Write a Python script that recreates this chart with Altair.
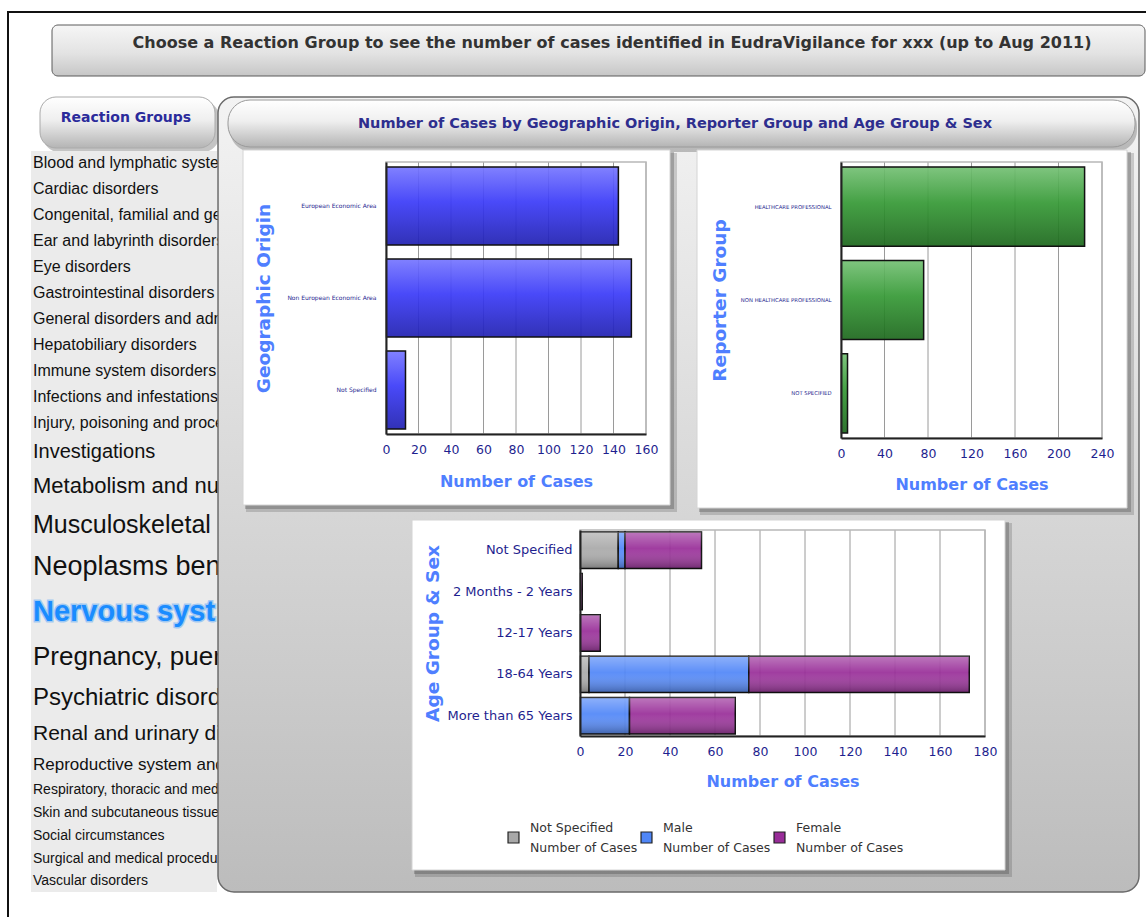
import altair as alt
import pandas as pd

# ---------------- data ----------------
geo_categories = ["European Economic Area", "Non European Economic Area", "Not Specified"]
geo_cases = [143, 151, 12]

reporter_categories = ["HEALTHCARE PROFESSIONAL", "NON HEALTHCARE PROFESSIONAL", "NOT SPECIFIED"]
reporter_cases = [224, 76, 6]

age_groups = ["Not Specified", "2 Months - 2 Years", "12-17 Years", "18-64 Years", "More than 65 Years"]
sex_groups = ["Not Specified", "Male", "Female"]
age_cases_not_specified = [17, 0, 0, 4, 0]
age_cases_male = [3, 0, 0, 71, 22]
age_cases_female = [34, 1, 9, 98, 47]

geo_ticks = [0, 20, 40, 60, 80, 100, 120, 140, 160]
reporter_ticks = [0, 40, 80, 120, 160, 200, 240]
age_ticks = [0, 20, 40, 60, 80, 100, 120, 140, 160, 180]

reaction_groups = [
    "Blood and lymphatic system disorders",
    "Cardiac disorders",
    "Congenital, familial and genetic disorders",
    "Ear and labyrinth disorders",
    "Eye disorders",
    "Gastrointestinal disorders",
    "General disorders and administration site conditions",
    "Hepatobiliary disorders",
    "Immune system disorders",
    "Infections and infestations",
    "Injury, poisoning and procedural complications",
    "Investigations",
    "Metabolism and nutrition disorders",
    "Musculoskeletal and connective tissue disorders",
    "Neoplasms benign, malignant and unspecified (incl cysts and polyps)",
    "Nervous system disorders",
    "Pregnancy, puerperium and perinatal conditions",
    "Psychiatric disorders",
    "Renal and urinary disorders",
    "Reproductive system and breast disorders",
    "Respiratory, thoracic and mediastinal disorders",
    "Skin and subcutaneous tissue disorders",
    "Social circumstances",
    "Surgical and medical procedures",
    "Vascular disorders",
]
selected_group = "Nervous system disorders"

header_text = "Choose a Reaction Group to see the number of cases identified in EudraVigilance for xxx (up to Aug 2011)"
panel_text = "Number of Cases by Geographic Origin, Reporter Group and Age Group & Sex"
list_title = "Reaction Groups"
x_title = "Number of Cases"

# ---------------- layout / style ----------------
list_font_sizes = [16] * 11 + [20, 22, 25, 27, 29, 26, 24, 21, 17, 14, 14, 14, 14, 14]

FONT = "DejaVu Sans"
NAVY = "#1f1f8f"
TBLUE = "#4f7fff"
CW, CH = 1146, 917

# plot areas (left, top, right, bottom) in page pixels
P1 = (386, 162, 646, 434)
P2 = (841, 162, 1102, 438)
P3 = (580, 530, 985, 736)

one = pd.DataFrame({"k": [0]})


def vgrad(stops):
    return alt.Gradient(
        gradient="linear", x1=0, x2=0, y1=0, y2=1,
        stops=[alt.GradientStop(offset=o, color=c) for o, c in stops],
    )


def rect(x1, y1, x2, y2, **kw):
    return alt.Chart(one).mark_rect(clip=False, **kw).encode(
        x=alt.value(x1), x2=alt.value(x2), y=alt.value(y1), y2=alt.value(y2))


def label(x, y, text, **kw):
    return alt.Chart(one).mark_text(clip=False, **kw).encode(
        x=alt.value(x), y=alt.value(y), text=alt.value(text))


def card(x1, y1, x2, y2):
    return [
        rect(x1 + 3, y1 + 3, x2 + 7, y2 + 7, fill="#404040", opacity=0.22),
        rect(x1 + 2, y1 + 2, x2 + 4, y2 + 4, fill="#404040", opacity=0.3),
        rect(x1, y1, x2, y2, fill="white", stroke="#d4d4d4", strokeWidth=1),
    ]


def frame(p):
    return rect(p[0], p[1], p[2], p[3], fillOpacity=0, stroke="#b8b8b8", strokeWidth=1.5)


def xaxis(ticks, p, ty):
    return alt.Axis(
        orient="bottom", offset=p[3] - CH,
        values=ticks, grid=False, ticks=False, labelFlush=False, labelPadding=9,
        labelFontSize=12.5, labelColor=NAVY, labelFont=FONT,
        domainColor="#222", domainWidth=2,
        title=x_title, titleColor=TBLUE, titleFont=FONT, titleFontSize=16,
        titleFontWeight="bold", titleY=ty, titleBaseline="middle", zindex=1,
    )


def yaxis(title, p, tx, fs, pad):
    return alt.Axis(
        orient="left", offset=-p[0],
        title=title, grid=False, ticks=False, labelFontSize=fs, labelColor=NAVY,
        labelFont=FONT, labelPadding=pad, labelLimit=400,
        domainColor="#222", domainWidth=2,
        titleColor=TBLUE, titleFont=FONT, titleFontSize=18.5, titleFontWeight="bold",
        titleX=tx, titleY=(p[1] + p[3]) / 2, titleAngle=270, titleAlign="center",
        titleBaseline="middle", zindex=1,
    )


def grid(ticks, sc, ax, p):
    return alt.Chart(pd.DataFrame({"t": ticks})).mark_rule(color="#9a9a9a", strokeWidth=1).encode(
        x=alt.X("t:Q", scale=sc, axis=ax), y=alt.value(p[1]), y2=alt.value(p[3]))


pill_grad = vgrad([(0, "#ffffff"), (0.45, "#efefef"), (1, "#b4b4b4")])

# ---------------- page decorations ----------------
deco = [
    rect(0, 0, CW, CH, fill="white"),
    rect(7, 11, CW, 13, fill="#111"),
    rect(7, 11, 9, CH, fill="#111"),
    rect(52, 25, 1145, 76, cornerRadius=6, stroke="#5a5a5a", strokeWidth=1,
         fill=vgrad([(0, "#f6f6f6"), (0.55, "#e3e3e3"), (1, "#c6c6c6")])),
    label(612, 43, header_text, font=FONT, fontSize=16, fontWeight="bold", color="#333"),
    rect(43, 101, 219, 152, cornerRadius=16, fill="#555", opacity=0.35),
    rect(40, 97, 215, 148, cornerRadius=16, fill=pill_grad, stroke="#aaa", strokeWidth=1),
    label(126, 118, list_title, font=FONT, fontSize=14, fontWeight="bold", color="#2b2b9b"),
    rect(31, 151, 217, 892, fill="#ebebeb"),
]

LIST_LIMIT = 194
NO_ELLIPSIS = "\u200b"
yy = 163.0
for i, (name, fs) in enumerate(zip(reaction_groups, list_font_sizes)):
    if i > 0:
        yy += (list_font_sizes[i - 1] + fs) / 2 * 1.625
    sel = name == selected_group
    if sel:
        deco.append(label(33, yy, name, align="left", baseline="middle",
                          font="Liberation Sans", fontSize=fs, fontWeight="bold",
                          color="#1a8cff", stroke="#1a8cff", strokeWidth=3, opacity=0.35,
                          limit=LIST_LIMIT, ellipsis=NO_ELLIPSIS))
    deco.append(label(33, yy, name, align="left", baseline="middle",
                      font="Liberation Sans", fontSize=fs,
                      fontWeight="bold" if sel else "normal",
                      color="#1a8cff" if sel else "#111",
                      limit=LIST_LIMIT, ellipsis=NO_ELLIPSIS))

deco += [
    rect(218, 97, 1139, 892, cornerRadius=16, stroke="#6a6a6a", strokeWidth=1.5,
         fill=vgrad([(0, "#f3f3f3"), (0.4, "#dddddd"), (1, "#bcbcbc")])),
    rect(230, 104, 1137, 152, cornerRadius=22, fill="#555", opacity=0.35),
    rect(228, 100, 1135, 147, cornerRadius=22, fill=pill_grad, stroke="#9a9a9a", strokeWidth=1),
    label(675, 124, panel_text, font=FONT, fontSize=14.5, fontWeight="bold", color="#2e2e8e"),
]

# ---------------- chart 1: geographic origin ----------------
geo_df = pd.DataFrame({"origin": geo_categories, "cases": geo_cases})
sc1 = alt.Scale(domain=[0, 160], nice=False, range=[P1[0], P1[2]])
ax1 = xaxis(geo_ticks, P1, 47)
band1 = alt.Scale(range=[P1[1], P1[3]], paddingInner=0.152, paddingOuter=0.054)
yax1 = yaxis("Geographic Origin", P1, -123, 6, 10)

bars1 = alt.Chart(geo_df).mark_bar(
    fill=vgrad([(0, "#7676ff"), (0.45, "#3a3af8"), (1, "#2020b0")]),
    stroke="#111", strokeWidth=1.5, fillOpacity=0.92,
).encode(
    x=alt.X("cases:Q", scale=sc1, axis=ax1),
    y=alt.Y("origin:N", sort=geo_categories, scale=band1, axis=yax1),
)
L1 = alt.layer(grid(geo_ticks, sc1, ax1, P1), bars1)

# ---------------- chart 2: reporter group ----------------
rep_df = pd.DataFrame({"reporter": reporter_categories, "cases": reporter_cases})
sc2 = alt.Scale(domain=[0, 240], nice=False, range=[P2[0], P2[2]])
ax2 = xaxis(reporter_ticks, P2, 46)
band2 = alt.Scale(range=[P2[1], P2[3]], paddingInner=0.152, paddingOuter=0.054)
yax2 = yaxis("Reporter Group", P2, -122, 5.3, 10)

bars2 = alt.Chart(rep_df).mark_bar(
    fill=vgrad([(0, "#74c074"), (0.45, "#359935"), (1, "#1c671c")]),
    stroke="#111", strokeWidth=1.5, fillOpacity=0.92,
).encode(
    x=alt.X("cases:Q", scale=sc2, axis=ax2),
    y=alt.Y("reporter:N", sort=reporter_categories, scale=band2, axis=yax2),
)
L2 = alt.layer(grid(reporter_ticks, sc2, ax2, P2), bars2)

# ---------------- chart 3: age group & sex ----------------
rows = []
for i, a in enumerate(age_groups):
    for j, vals in enumerate([age_cases_not_specified, age_cases_male, age_cases_female]):
        rows.append({"age": a, "sex": sex_groups[j], "order": j, "cases": vals[i]})
age_df = pd.DataFrame(rows)

sc3 = alt.Scale(domain=[0, 180], nice=False, range=[P3[0], P3[2]])
ax3 = xaxis(age_ticks, P3, 45)
band3 = alt.Scale(range=[P3[1], P3[3]], paddingInner=0.12, paddingOuter=0.05)
yax3 = yaxis("Age Group & Sex", P3, -148, 13, 8)

base3 = alt.Chart(age_df).transform_filter(alt.datum.cases > 0).transform_stack(
    stack="cases", groupby=["age"], as_=["x0", "x1"], sort=[alt.SortField("order", order="ascending")])

bars3 = base3.mark_bar(stroke="#111", strokeWidth=1.5, fillOpacity=0.92).encode(
    x=alt.X("x0:Q", scale=sc3, axis=ax3),
    x2="x1:Q",
    y=alt.Y("age:N", sort=age_groups, scale=band3, axis=yax3),
    color=alt.Color(
        "sex:N", sort=sex_groups,
        scale=alt.Scale(domain=sex_groups, range=["#a8a8a8", "#4f86f7", "#982c98"]),
        legend=alt.Legend(
            title=None, orient="none", legendX=507, legendY=831, direction="horizontal",
            symbolType="square", symbolSize=120, symbolStrokeColor="#222",
            symbolStrokeWidth=1.2, symbolOpacity=1, labelFont=FONT, labelFontSize=12.5,
            labelColor="#333", labelExpr="[datum.label, 'Number of Cases']",
            labelBaseline="line-bottom", labelOffset=10, columnPadding=0, padding=0,
        ),
    ),
)
shade3 = base3.mark_bar(
    fill=vgrad([(0, "rgba(255,255,255,0.30)"), (0.45, "rgba(255,255,255,0.0)"), (1, "rgba(0,0,0,0.30)")]),
).encode(
    x=alt.X("x0:Q", scale=sc3, axis=ax3),
    x2="x1:Q",
    y=alt.Y("age:N", sort=age_groups, scale=band3, axis=yax3),
)
L3 = alt.layer(grid(age_ticks, sc3, ax3, P3), bars3, shade3)

chart = alt.layer(
    *deco,
    *card(243, 150, 670, 505), L1, frame(P1),
    *card(697, 150, 1127, 508), L2, frame(P2),
    *card(412, 520, 1005, 870), L3, frame(P3),
).resolve_scale(
    x="independent", y="independent"
).properties(
    width=CW, height=CH, padding=0, autosize=alt.AutoSizeParams(type="none")
).configure(
    view=alt.ViewConfig(stroke="transparent"),
    style={"guide-label": {"lineHeight": 20}},
)

chart.save("out.html", embed_options={"renderer": "svg", "actions": False})
